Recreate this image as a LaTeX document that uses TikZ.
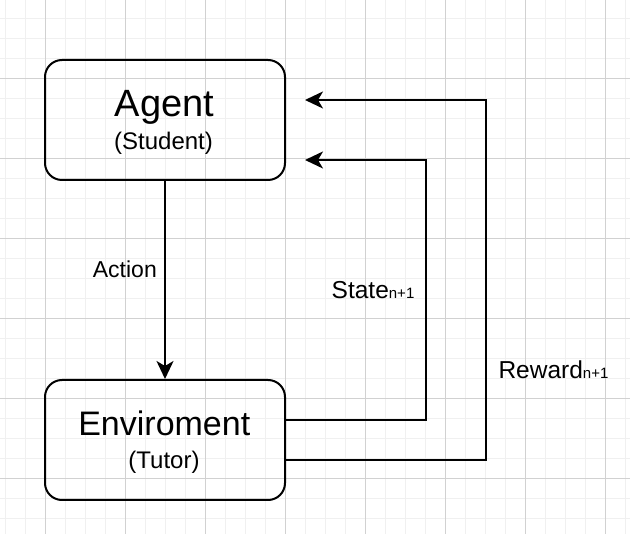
\documentclass[tikz,border=0pt]{standalone}
\usepackage{fontspec}
\setmainfont{Liberation Sans}
\usetikzlibrary{arrows.meta}
\newcommand{\subtxt}[1]{{\fontsize{15}{18}\selectfont #1}}
\begin{document}
\begin{tikzpicture}[x=1pt,y=-1pt,
  box/.style={draw, line width=2pt, rounded corners=17pt, minimum width=240pt, minimum height=120pt, inner sep=0pt},
  conn/.style={line width=2pt, -{Stealth[length=18pt,width=17pt,inset=5pt]}},
  txt/.style={inner sep=0pt, anchor=base},
  big/.style={txt, font=\fontsize{34}{40}\selectfont},
  small/.style={txt, font=\fontsize{24}{28}\selectfont},
  lbl/.style={inner sep=0pt, anchor=base west, font=\fontsize{24.5}{28}\selectfont},
  minorgrid/.style={line width=1pt, draw=black!6},
  majorgrid/.style={line width=1pt, draw=black!18}
]
\fill[white] (0,0) rectangle (630,534);
\useasboundingbox (0,0) rectangle (630,534);
% grid
\foreach \x in {5,25,...,625} \draw[minorgrid] (\x,0) -- (\x,534);
\foreach \y in {19,39,...,519} \draw[minorgrid] (0,\y) -- (630,\y);
\foreach \x in {45,125,...,605} \draw[majorgrid] (\x,0) -- (\x,534);
\foreach \y in {79,159,...,479} \draw[majorgrid] (0,\y) -- (630,\y);
% boxes
\node[box] (agent) at (165,120) {};
\node[box] (env) at (165,440) {};
\node[big, font=\fontsize{38}{44}\selectfont] (agentT) at (164.5,117) {Agent};
\node[small] (agentS) at (163.5,150) {(Student)};
\node[big] (envT) at (164.3,436) {Enviroment};
\node[small] (envS) at (164,468.5) {(Tutor)};
% connectors
\coordinate (stateEnd) at (305,160);
\coordinate (rewardEnd) at (305,100);
\draw[conn] (agent.south) -- (env.north);
\draw[conn] ([yshift=20pt]env.east) -- ++(140,0) |- (stateEnd);
\draw[conn] ([yshift=-20pt]env.east) -- ++(200,0) |- (rewardEnd);
% labels
\node[lbl, font=\fontsize{23}{28}\selectfont] (action) at (92.7,277.3) {Action};
\node[lbl] (state) at (331.5,298.3) {State\subtxt{n+1}};
\node[lbl] (reward) at (498.3,378.3) {Reward\subtxt{n+1}};
\end{tikzpicture}
\end{document}
